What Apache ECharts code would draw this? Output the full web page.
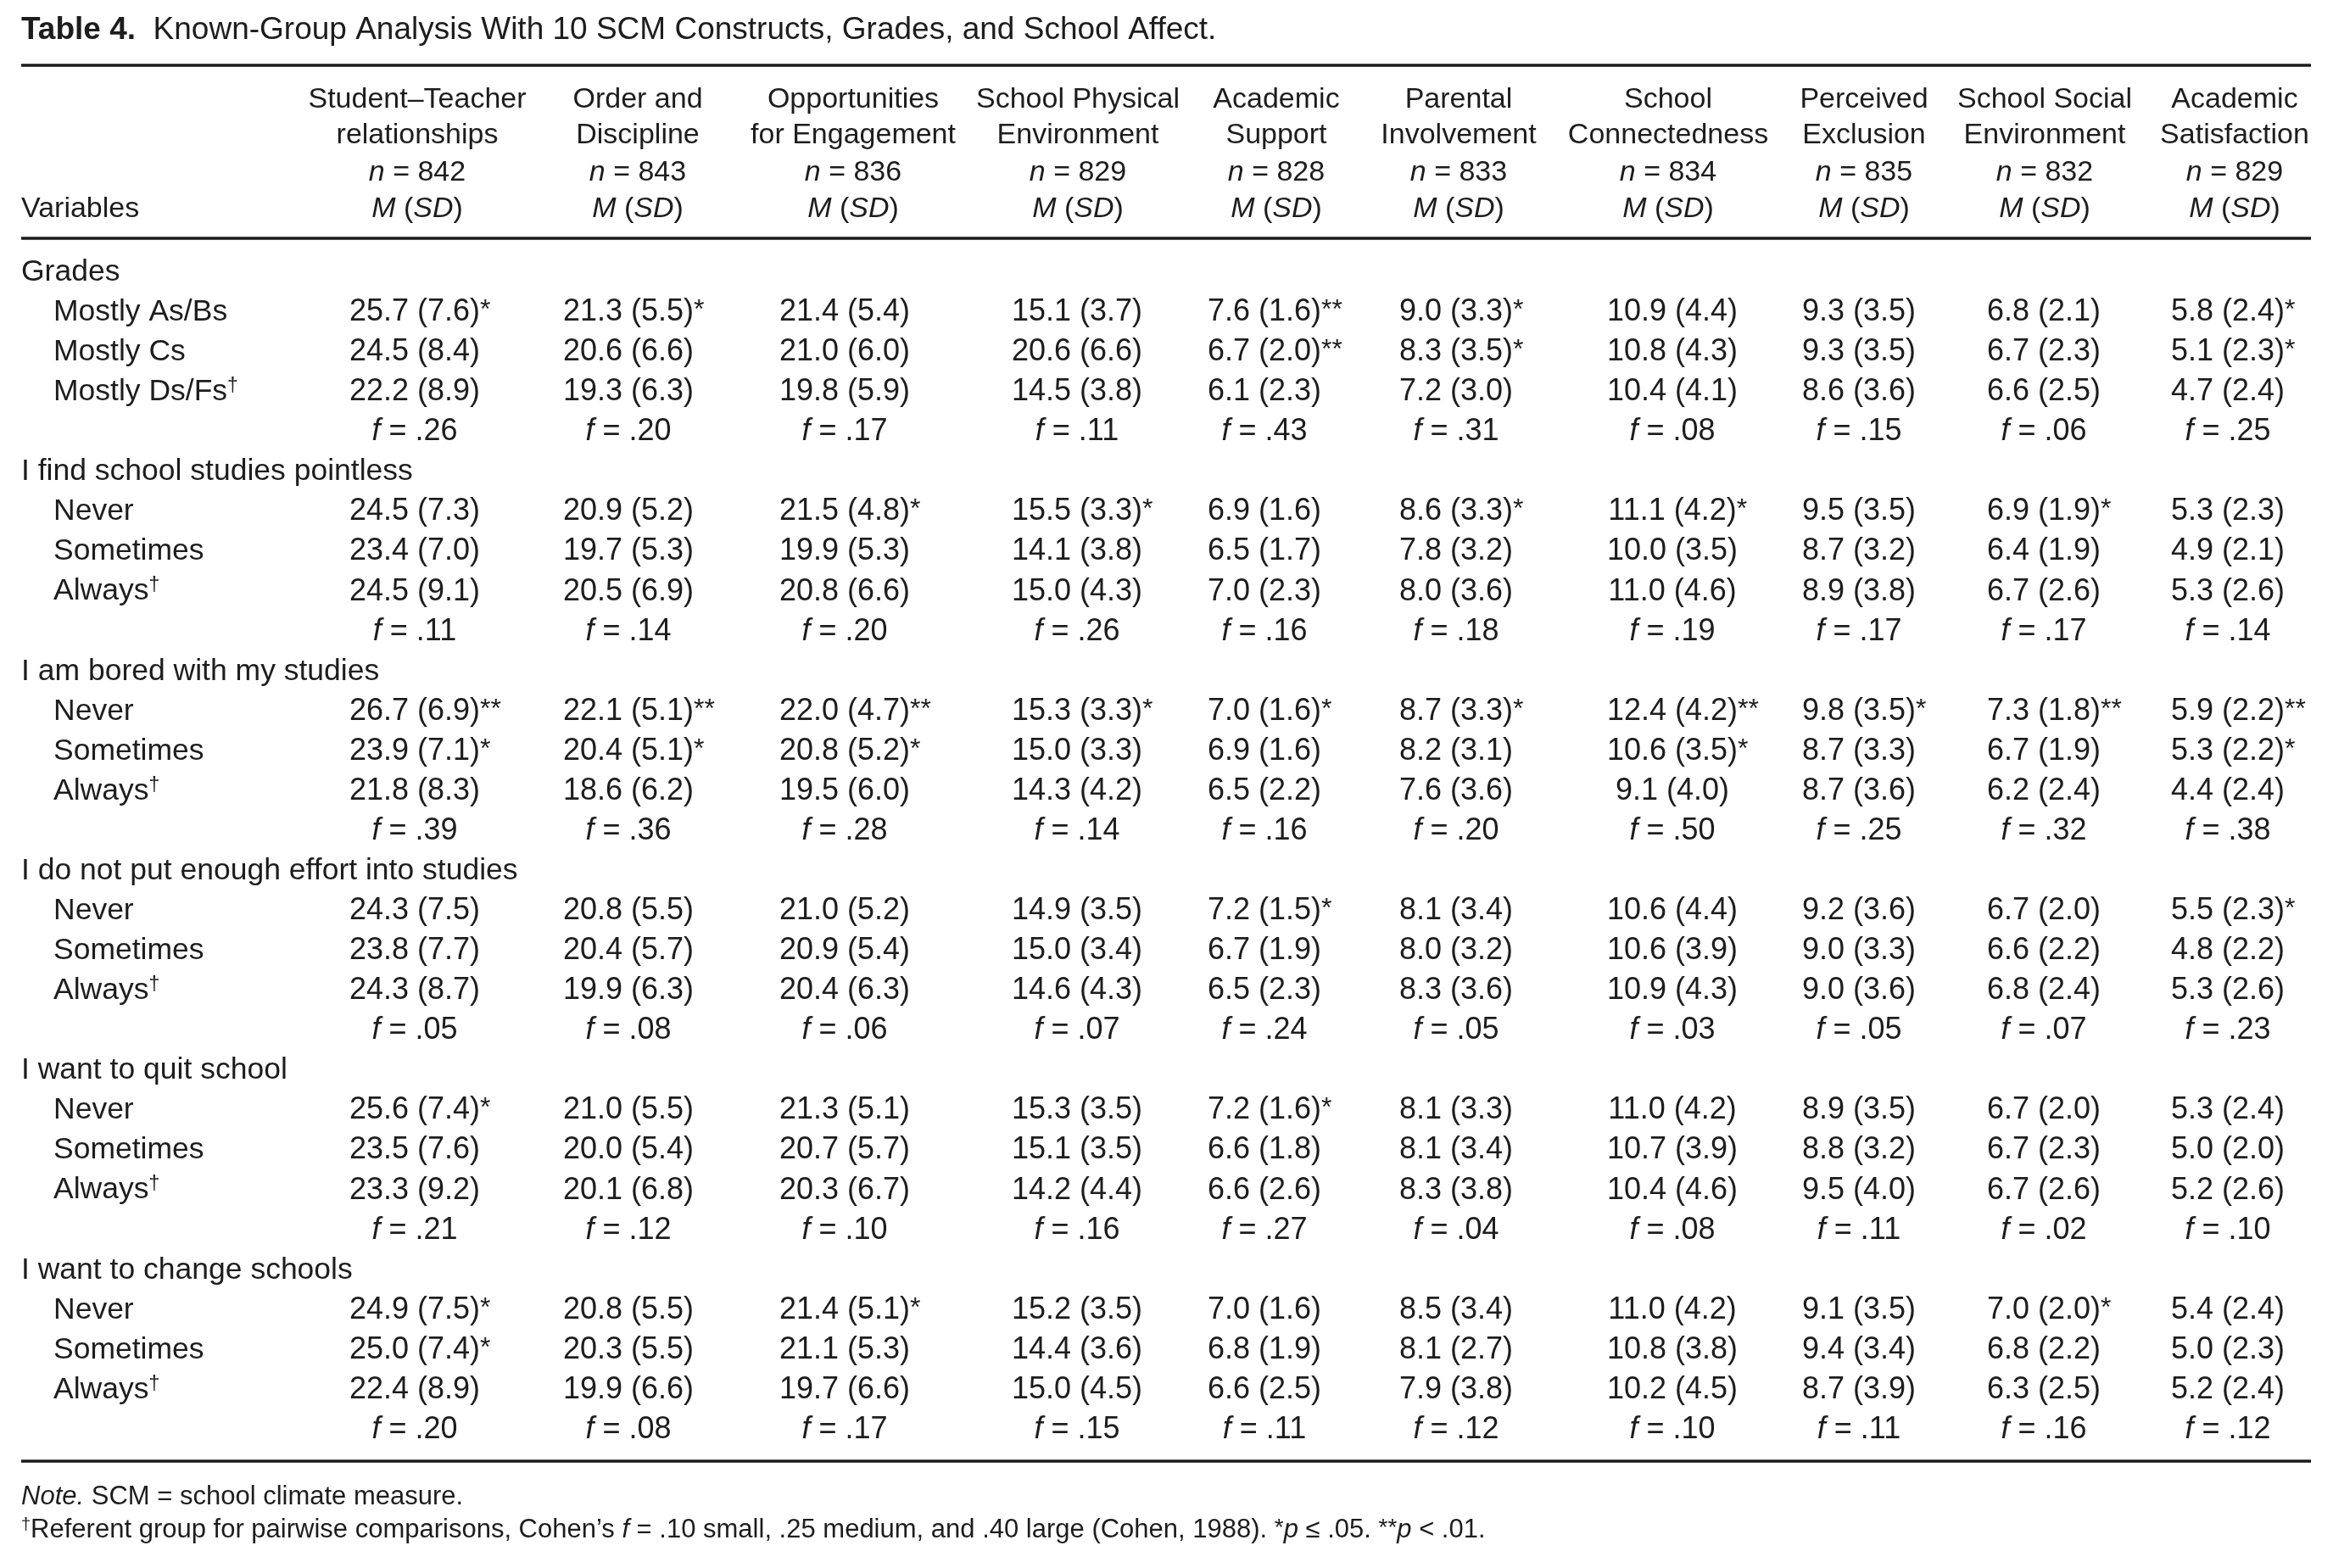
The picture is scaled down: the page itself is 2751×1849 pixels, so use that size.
<!DOCTYPE html>
<html>
<head>
<meta charset="utf-8">
<script src="https://cdn.jsdelivr.net/npm/echarts@6/dist/echarts.min.js"></script>
<style>
html,body{margin:0;padding:0;background:#ffffff;}
#chart{width:2751px;height:1849px;}
</style>
</head>
<body>
<div id="chart"></div>
<script>
// ---------------- DATA ----------------
const tableTitle = 'Known-Group Analysis With 10 SCM Constructs, Grades, and School Affect.';
const constructLine1 = ['Student\u2013Teacher', 'Order and', 'Opportunities', 'School Physical', 'Academic', 'Parental', 'School', 'Perceived', 'School Social', 'Academic'];
const constructLine2 = ['relationships', 'Discipline', 'for Engagement', 'Environment', 'Support', 'Involvement', 'Connectedness', 'Exclusion', 'Environment', 'Satisfaction'];
const sampleSizes = [842, 843, 836, 829, 828, 833, 834, 835, 832, 829];
const groupLabels = ['Grades', 'I find school studies pointless', 'I am bored with my studies', 'I do not put enough effort into studies', 'I want to quit school', 'I want to change schools'];
const gradeLevels = ['Mostly As/Bs', 'Mostly Cs', 'Mostly Ds/Fs'];
const freqLevels = ['Never', 'Sometimes', 'Always'];

const gradesMeans = [[25.7,21.3,21.4,15.1,7.6,9.0,10.9,9.3,6.8,5.8],[24.5,20.6,21.0,20.6,6.7,8.3,10.8,9.3,6.7,5.1],[22.2,19.3,19.8,14.5,6.1,7.2,10.4,8.6,6.6,4.7]];
const gradesSDs   = [[7.6,5.5,5.4,3.7,1.6,3.3,4.4,3.5,2.1,2.4],[8.4,6.6,6.0,6.6,2.0,3.5,4.3,3.5,2.3,2.3],[8.9,6.3,5.9,3.8,2.3,3.0,4.1,3.6,2.5,2.4]];
const gradesSig   = [['*','*','','','**','*','','','','*'],['','','','','**','*','','','','*'],['','','','','','','','','','']];
const gradesF     = [.26,.20,.17,.11,.43,.31,.08,.15,.06,.25];

const pointlessMeans = [[24.5,20.9,21.5,15.5,6.9,8.6,11.1,9.5,6.9,5.3],[23.4,19.7,19.9,14.1,6.5,7.8,10.0,8.7,6.4,4.9],[24.5,20.5,20.8,15.0,7.0,8.0,11.0,8.9,6.7,5.3]];
const pointlessSDs   = [[7.3,5.2,4.8,3.3,1.6,3.3,4.2,3.5,1.9,2.3],[7.0,5.3,5.3,3.8,1.7,3.2,3.5,3.2,1.9,2.1],[9.1,6.9,6.6,4.3,2.3,3.6,4.6,3.8,2.6,2.6]];
const pointlessSig   = [['','','*','*','','*','*','','*',''],['','','','','','','','','',''],['','','','','','','','','','']];
const pointlessF     = [.11,.14,.20,.26,.16,.18,.19,.17,.17,.14];

const boredMeans = [[26.7,22.1,22.0,15.3,7.0,8.7,12.4,9.8,7.3,5.9],[23.9,20.4,20.8,15.0,6.9,8.2,10.6,8.7,6.7,5.3],[21.8,18.6,19.5,14.3,6.5,7.6,9.1,8.7,6.2,4.4]];
const boredSDs   = [[6.9,5.1,4.7,3.3,1.6,3.3,4.2,3.5,1.8,2.2],[7.1,5.1,5.2,3.3,1.6,3.1,3.5,3.3,1.9,2.2],[8.3,6.2,6.0,4.2,2.2,3.6,4.0,3.6,2.4,2.4]];
const boredSig   = [['**','**','**','*','*','*','**','*','**','**'],['*','*','*','','','','*','','','*'],['','','','','','','','','','']];
const boredF     = [.39,.36,.28,.14,.16,.20,.50,.25,.32,.38];

const effortMeans = [[24.3,20.8,21.0,14.9,7.2,8.1,10.6,9.2,6.7,5.5],[23.8,20.4,20.9,15.0,6.7,8.0,10.6,9.0,6.6,4.8],[24.3,19.9,20.4,14.6,6.5,8.3,10.9,9.0,6.8,5.3]];
const effortSDs   = [[7.5,5.5,5.2,3.5,1.5,3.4,4.4,3.6,2.0,2.3],[7.7,5.7,5.4,3.4,1.9,3.2,3.9,3.3,2.2,2.2],[8.7,6.3,6.3,4.3,2.3,3.6,4.3,3.6,2.4,2.6]];
const effortSig   = [['','','','','*','','','','','*'],['','','','','','','','','',''],['','','','','','','','','','']];
const effortF     = [.05,.08,.06,.07,.24,.05,.03,.05,.07,.23];

const quitMeans = [[25.6,21.0,21.3,15.3,7.2,8.1,11.0,8.9,6.7,5.3],[23.5,20.0,20.7,15.1,6.6,8.1,10.7,8.8,6.7,5.0],[23.3,20.1,20.3,14.2,6.6,8.3,10.4,9.5,6.7,5.2]];
const quitSDs   = [[7.4,5.5,5.1,3.5,1.6,3.3,4.2,3.5,2.0,2.4],[7.6,5.4,5.7,3.5,1.8,3.4,3.9,3.2,2.3,2.0],[9.2,6.8,6.7,4.4,2.6,3.8,4.6,4.0,2.6,2.6]];
const quitSig   = [['*','','','','*','','','','',''],['','','','','','','','','',''],['','','','','','','','','','']];
const quitF     = [.21,.12,.10,.16,.27,.04,.08,.11,.02,.10];

const changeMeans = [[24.9,20.8,21.4,15.2,7.0,8.5,11.0,9.1,7.0,5.4],[25.0,20.3,21.1,14.4,6.8,8.1,10.8,9.4,6.8,5.0],[22.4,19.9,19.7,15.0,6.6,7.9,10.2,8.7,6.3,5.2]];
const changeSDs   = [[7.5,5.5,5.1,3.5,1.6,3.4,4.2,3.5,2.0,2.4],[7.4,5.5,5.3,3.6,1.9,2.7,3.8,3.4,2.2,2.3],[8.9,6.6,6.6,4.5,2.5,3.8,4.5,3.9,2.5,2.4]];
const changeSig   = [['*','','*','','','','','','*',''],['*','','','','','','','','',''],['','','','','','','','','','']];
const changeF     = [.20,.08,.17,.15,.11,.12,.10,.11,.16,.12];

const noteLine1 = '{i|Note.} SCM = school climate measure.';
const noteLine2 = '{sup|\u2020}Referent group for pairwise comparisons, Cohen\u2019s {i|f} = .10 small, .25 medium, and .40 large (Cohen, 1988). {ast|*}{i|p} \u2264 .05. {ast|**}{i|p} < .01.';

// ---------------- LAYOUT ----------------
const W = 2751, H = 1849;
const FONT = "'Liberation Sans', Arial, sans-serif";
const INK = '#1d1d1d';
const headerCenters = [492, 752, 1006, 1271, 1505, 1720, 1967, 2198, 2411, 2635];
const dataCenters   = [489, 741, 996, 1270, 1491, 1717, 1972, 2192, 2410, 2627];
const groupLabelX = 25, levelLabelX = 63;
const SIZE_TITLE = 37, SIZE_LABEL = 35.5, SIZE_DATA = 36, SIZE_HEAD = 34, SIZE_NOTE = 31;
const ROW_TOP = 297.5, ROW_BAND = 47.07;

function rich(size) {
  const s = Math.round(size * 0.66);
  const a = Math.round(size * 0.9);
  return {
    i:   {fontStyle: 'italic', fontSize: size, fontFamily: FONT, fill: INK},
    b:   {fontWeight: 'bold', fontSize: size, fontFamily: FONT, fill: INK},
    sup: {fontSize: s, fontFamily: FONT, fill: INK, verticalAlign: 'top'},
    ast: {fontSize: a, fontFamily: FONT, fill: INK, verticalAlign: 'top'},
    gh:  {fontSize: a, fontFamily: FONT, fill: 'rgba(255,255,255,0)', opacity: 0, verticalAlign: 'top'}
  };
}

const groups = [
  {levels: gradeLevels, means: gradesMeans, sds: gradesSDs, sig: gradesSig, f: gradesF},
  {levels: freqLevels, means: pointlessMeans, sds: pointlessSDs, sig: pointlessSig, f: pointlessF},
  {levels: freqLevels, means: boredMeans, sds: boredSDs, sig: boredSig, f: boredF},
  {levels: freqLevels, means: effortMeans, sds: effortSDs, sig: effortSig, f: effortF},
  {levels: freqLevels, means: quitMeans, sds: quitSDs, sig: quitSig, f: quitF},
  {levels: freqLevels, means: changeMeans, sds: changeSDs, sig: changeSig, f: changeF}
];

const rowKeys = [];
const cells = [];
groups.forEach(function (g, gi) {
  let r = rowKeys.length;
  rowKeys.push('g' + gi);
  cells.push({x: groupLabelX, row: r, text: groupLabels[gi], align: 'left', size: SIZE_LABEL});
  g.levels.forEach(function (lv, li) {
    r = rowKeys.length;
    rowKeys.push('g' + gi + 'l' + li);
    const ref = li === g.levels.length - 1 ? '{sup|\u2020}' : '';
    cells.push({x: levelLabelX, row: r, text: lv + ref, align: 'left', size: SIZE_LABEL});
    for (let j = 0; j < 10; j++) {
      const s = g.sig[li][j];
      const core = g.means[li][j].toFixed(1) + ' (' + g.sds[li][j].toFixed(1) + ')';
      const txt = s ? '{gh|' + s + '}' + core + '{ast|' + s + '}' : core;
      cells.push({x: dataCenters[j], row: r, text: txt, align: 'center', size: SIZE_DATA});
    }
  });
  r = rowKeys.length;
  rowKeys.push('g' + gi + 'f');
  for (let j = 0; j < 10; j++) {
    const fv = g.f[j].toFixed(2).replace(/^0/, '');
    cells.push({x: dataCenters[j], row: r, text: '{i|f} = ' + fv, align: 'center', size: SIZE_DATA});
  }
});

// header / rules / notes graphics
const graphics = [];
function addText(x, y, text, size, align) {
  graphics.push({
    type: 'text', x: x, y: y, silent: true,
    style: {text: text, fontSize: size, fontFamily: FONT, fill: INK, align: align, verticalAlign: 'middle', rich: rich(size)}
  });
}
addText(25, 36, '{b|Table 4.}  ' + tableTitle, SIZE_TITLE, 'left');
[77, 281, 1723].forEach(function (y) {
  graphics.push({type: 'line', silent: true, shape: {x1: 25, y1: y, x2: 2725, y2: y}, style: {stroke: '#1a1a1a', lineWidth: 3.5}});
});
const headerY = [118, 160, 204, 247];
for (let j = 0; j < 10; j++) {
  addText(headerCenters[j], headerY[0], constructLine1[j], SIZE_HEAD, 'center');
  addText(headerCenters[j], headerY[1], constructLine2[j], SIZE_HEAD, 'center');
  addText(headerCenters[j], headerY[2], '{i|n} = ' + sampleSizes[j], SIZE_HEAD, 'center');
  addText(headerCenters[j], headerY[3], '{i|M} ({i|SD})', SIZE_HEAD, 'center');
}
addText(25, headerY[3], 'Variables', SIZE_HEAD, 'left');
addText(25, 1765, noteLine1, SIZE_NOTE, 'left');
addText(25, 1804, noteLine2, SIZE_NOTE, 'left');

const chart = echarts.init(document.getElementById('chart'), null, {renderer: 'canvas'});
chart.setOption({
  animation: false,
  backgroundColor: '#ffffff',
  grid: {left: 0, right: 0, top: ROW_TOP, height: ROW_BAND * rowKeys.length, containLabel: false},
  xAxis: {type: 'value', min: 0, max: W, show: false},
  yAxis: {type: 'category', data: rowKeys, inverse: true, show: false},
  graphic: graphics,
  series: [{
    type: 'custom',
    clip: false,
    data: cells.map(function (c) { return [c.x, c.row]; }),
    renderItem: function (params, api) {
      const c = cells[params.dataIndex];
      const p = api.coord([api.value(0), api.value(1)]);
      return {
        type: 'text', x: p[0], y: p[1],
        style: {
          text: c.text, align: c.align, verticalAlign: 'middle',
          fontSize: c.size, fontFamily: FONT, fill: INK, rich: rich(c.size)
        }
      };
    }
  }]
});
</script>
</body>
</html>
